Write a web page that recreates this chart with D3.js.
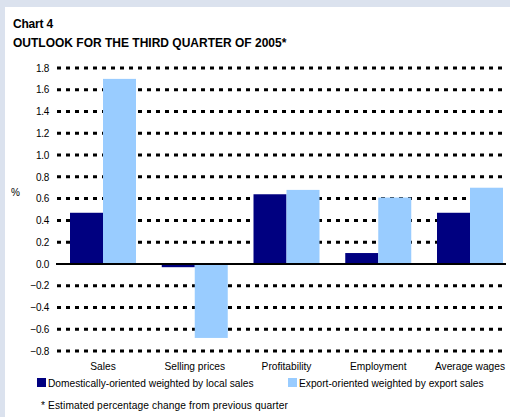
<!DOCTYPE html>
<html><head><meta charset="utf-8">
<script src="https://cdn.jsdelivr.net/npm/d3@7"></script>
<style>body{margin:0;background:#fff}svg{display:block;font-family:"Liberation Sans",Arial,sans-serif}</style>
</head><body>
<script>
const categories = ["Sales","Selling prices","Profitability","Employment","Average wages"];
const domestic = [0.47,-0.03,0.64,0.10,0.47];
const exportS = [1.70,-0.68,0.68,0.61,0.70];
const seriesNames = ["Domestically-oriented weighted by local sales","Export-oriented weighted by export sales"];
const yTicks = [1.8,1.6,1.4,1.2,1.0,0.8,0.6,0.4,0.2,0.0,-0.2,-0.4,-0.6,-0.8];
const colors = ["#000080","#99ccff"];

const W=510,H=417;
const svg=d3.select("body").append("svg").attr("width",W).attr("height",H);
svg.append("rect").attr("width",W).attr("height",H).attr("fill","#dbe2ee");
svg.append("rect").attr("x",5).attr("y",7).attr("width",W-5).attr("height",H-7).attr("fill","#fff");

svg.append("text").attr("x",13).attr("y",28).attr("font-size",12).attr("font-weight","bold").attr("letter-spacing",-0.2).text("Chart 4");
svg.append("text").attr("x",13).attr("y",47).attr("font-size",12).attr("font-weight","bold").attr("letter-spacing",0).text("OUTLOOK FOR THE THIRD QUARTER OF 2005*");

const y=d3.scaleLinear().domain([-0.8,1.8]).range([351,68]);
const x=d3.scaleBand().domain(categories).range([70,503]).paddingInner(0.2807).paddingOuter(0);
const xs=d3.scaleBand().domain([0,1]).range([0,x.bandwidth()]);

// gridlines
svg.append("g").selectAll("line").data(yTicks.filter(d=>d!==0)).join("line")
 .attr("x1",57).attr("x2",506).attr("y1",d=>y(d)).attr("y2",d=>y(d))
 .attr("stroke","#000").attr("stroke-width",3).attr("stroke-dasharray","4,5");

// y axis labels
const yAxis=d3.axisLeft(y).tickValues(yTicks).tickFormat(d3.format(".1f")).tickSize(0).tickPadding(0);
const ga=svg.append("g").attr("transform","translate(49,0)").call(yAxis);
ga.select(".domain").remove();
ga.selectAll("text").attr("font-size",10).attr("font-family","Liberation Sans, Arial, sans-serif").attr("fill","#000").attr("letter-spacing",-0.3);

svg.append("text").attr("x",11).attr("y",196).attr("font-size",10).text("%");

// bars
const data=[domestic,exportS];
data.forEach((arr,si)=>{
  svg.append("g").selectAll("rect").data(arr).join("rect")
   .attr("x",(d,i)=>x(categories[i])+xs(si))
   .attr("width",xs.bandwidth())
   .attr("y",d=>y(Math.max(0,d)))
   .attr("height",d=>Math.abs(y(d)-y(0)))
   .attr("fill",colors[si]);
});

// zero line
svg.append("line").attr("x1",56).attr("x2",506).attr("y1",y(0)).attr("y2",y(0)).attr("stroke","#000").attr("stroke-width",2);

// category labels
const xAxis=d3.axisBottom(x).tickSize(0).tickPadding(0);
const gx=svg.append("g").attr("transform","translate(0,363)").call(xAxis);
gx.select(".domain").remove();
gx.selectAll("text").attr("font-size",10.2).attr("font-family","Liberation Sans, Arial, sans-serif").attr("fill","#000");

// legend
const lx=[37,288];
seriesNames.forEach((n,i)=>{
  svg.append("rect").attr("x",lx[i]).attr("y",378).attr("width",9).attr("height",9).attr("fill",colors[i]);
  svg.append("text").attr("x",lx[i]+11).attr("y",387).attr("font-size",10.2).text(n);
});
svg.append("text").attr("x",41).attr("y",409).attr("font-size",10.2).attr("letter-spacing",0.1).text("* Estimated percentage change from previous quarter");
</script>
</body></html>
